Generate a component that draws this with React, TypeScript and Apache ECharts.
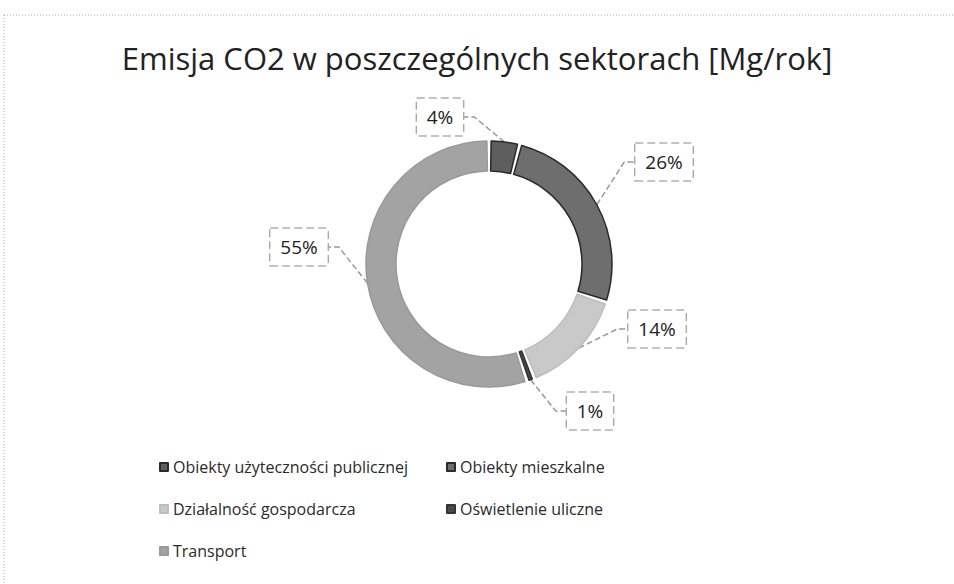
import React, { useEffect, useRef } from "react";
import * as echarts from "echarts";

const TITLE = "Emisja CO2 w poszczególnych sektorach [Mg/rok]";
const CATEGORIES = [
  "Obiekty użyteczności publicznej",
  "Obiekty mieszkalne",
  "Działalność gospodarcza",
  "Oświetlenie uliczne",
  "Transport",
];
const VALUES = [4, 26, 14, 1, 55];
const COLORS = ["#5e5e5e", "#6e6e6e", "#c9c9c9", "#4a4a4a", "#a3a3a3"];
const BORDERS = ["#2a2a2a", "#2a2a2a", "#bdbdbd", "#333333", "#999999"];
const LEGEND_COL1 = [CATEGORIES[0], CATEGORIES[2], CATEGORIES[4]];
const LEGEND_COL2 = [CATEGORIES[1], CATEGORIES[3]];

// label box centres (layout only, page coordinates)
const LABEL_POS: [number, number][] = [
  [440, 117],
  [664, 162],
  [657, 329],
  [590, 411],
  [299, 247],
];

const FONT = "'Open Sans', 'Noto Sans', sans-serif";

export default function App() {
  const ref = useRef<HTMLDivElement>(null);
  useEffect(() => {
    if (!ref.current) return;
    const chart = echarts.init(ref.current, undefined, { renderer: "svg" });
    const legendBase = {
      orient: "vertical" as const,
      top: 454,
      itemGap: 26,
      itemWidth: 8,
      itemHeight: 8,
      icon: "rect",
      textStyle: { fontSize: 16, color: "#2a2a2a", fontFamily: FONT },
    };
    chart.setOption({
      animation: false,
      backgroundColor: "#ffffff",
      title: {
        text: TITLE,
        left: "center",
        top: 37,
        textStyle: { fontSize: 31, fontWeight: "normal", color: "#222", fontFamily: FONT },
      },
      legend: [
        { ...legendBase, left: 154, data: LEGEND_COL1 },
        { ...legendBase, left: 441, data: LEGEND_COL2 },
      ],
      graphic: [
        {
          type: "rect",
          shape: { x: 4, y: 15, width: 1000, height: 1000 },
          style: { fill: "none", stroke: "#aaa", lineWidth: 1, lineDash: [1, 2] },
          silent: true,
        },
      ],
      series: [
        {
          type: "pie",
          center: [489, 264],
          radius: [93, 123],
          startAngle: 90,
          clockwise: true,
          padAngle: 2,
          data: CATEGORIES.map((name, i) => ({
            name,
            value: VALUES[i],
            itemStyle: { color: COLORS[i], borderColor: BORDERS[i], borderWidth: 1.5 },
          })),
          label: {
            show: true,
            position: "outside",
            formatter: (p: any) => `${p.value}%`,
            fontSize: 19,
            color: "#222",
            fontFamily: FONT,
            backgroundColor: "#fff",
            borderColor: "#888",
            borderWidth: 1,
            borderType: "dashed",
            padding: [9, 10, 9, 10],
          },
          labelLine: {
            show: true,
            length: 15,
            length2: 10,
            lineStyle: { color: "#999", width: 1.5, type: "dashed" },
          },
          labelLayout: (params: any) => {
            const pos = LABEL_POS[params.dataIndex];
            return { x: pos[0], y: pos[1], align: "center", verticalAlign: "middle" };
          },
        },
      ],
    });
    return () => chart.dispose();
  }, []);
  return (
    <div
      ref={ref}
      style={{ position: "absolute", left: 0, top: 0, width: 954, height: 584 }}
    />
  );
}
